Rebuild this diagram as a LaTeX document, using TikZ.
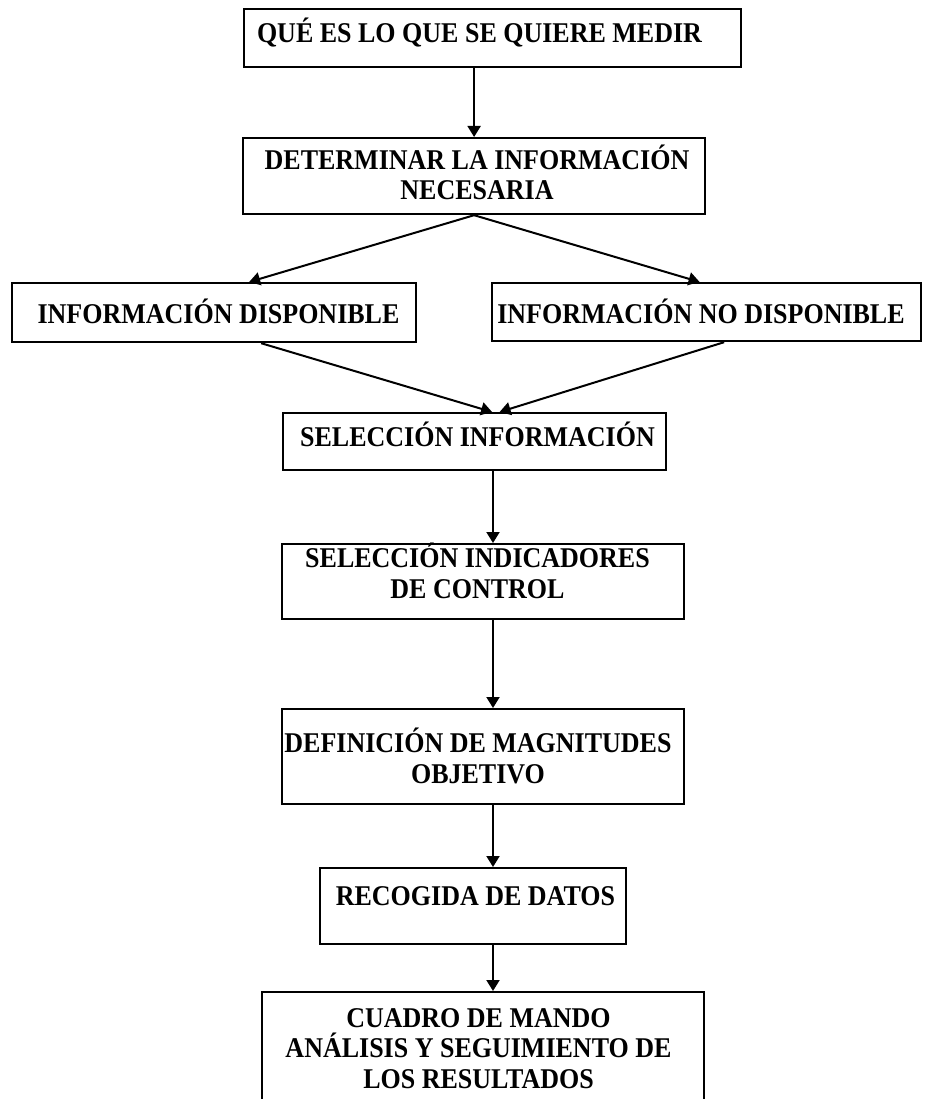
\documentclass[tikz,border=0pt]{standalone}
\usepackage{fontspec}
\usepackage{graphicx}
\setmainfont{Liberation Serif}
\usetikzlibrary{arrows.meta}
% slightly taller capitals for the box labels
\newcommand{\tallcaps}[1]{\scalebox{1}[1.1]{#1}}
\begin{document}
\begin{tikzpicture}[x=1pt,y=-1pt,
  box/.style={draw=black, line width=2.2pt, rectangle, inner sep=0pt, anchor=north west},
  lbl/.style={inner sep=0pt, anchor=base, align=center,
    font=\bfseries\fontsize{26}{30.5}\selectfont},
  arr/.style={draw=black, line width=2pt, -{Triangle[length=11pt,width=13pt]}}]
\useasboundingbox (0,0) rectangle (925,1099);

% boxes (top-left corner, size)
\node[box, minimum width=497pt, minimum height=58pt] (qm) at (243,8) {};
\node[box, minimum width=462pt, minimum height=76pt] (det) at (242,137) {};
\node[box, minimum width=404pt, minimum height=59pt] (disp) at (11,282) {};
\node[box, minimum width=429pt, minimum height=58pt] (nodisp) at (491,282) {};
\node[box, minimum width=383pt, minimum height=57pt] (sel) at (282,412) {};
\node[box, minimum width=402pt, minimum height=75pt] (ind) at (281,543) {};
\node[box, minimum width=402pt, minimum height=95pt] (def) at (281,708) {};
\node[box, minimum width=306pt, minimum height=76pt] (rec) at (319,867) {};
\node[box, minimum width=442pt, minimum height=160pt] (cm) at (261,991) {};

% box texts (anchored at the baseline of the last line)
\node[lbl] (tqm) at (479.5,43) {\tallcaps{QUÉ ES LO QUE SE QUIERE MEDIR}};
\node[lbl] (tdet) at (477,200) {\tallcaps{DETERMINAR LA INFORMACIÓN}\\\tallcaps{NECESARIA}};
\node[lbl] (tdisp) at (218.5,323) {\tallcaps{INFORMACIÓN DISPONIBLE}};
\node[lbl] (tnodisp) at (701,323) {\tallcaps{INFORMACIÓN NO DISPONIBLE}};
\node[lbl] (tsel) at (477.5,446) {\tallcaps{SELECCIÓN INFORMACIÓN}};
\node[lbl] (tind) at (477.5,598) {\tallcaps{SELECCIÓN INDICADORES}\\\tallcaps{DE CONTROL}};
\node[lbl] (tdef) at (478,783) {\tallcaps{DEFINICIÓN DE MAGNITUDES}\\\tallcaps{OBJETIVO}};
\node[lbl] (trec) at (475.5,905) {\tallcaps{RECOGIDA DE DATOS}};
\node[lbl] (tcm) at (478.5,1088) {\tallcaps{CUADRO DE MANDO}\\\tallcaps{ANÁLISIS Y SEGUIMIENTO DE}\\\tallcaps{LOS RESULTADOS}};

% connectors
\coordinate (spine) at (493,0);
\draw[arr] (qm.south -| det.north) -- (det.north);
\draw[arr] (det.south) -- ([xshift=35pt]disp.north);
\draw[arr] (det.south) -- ([xshift=-7pt]nodisp.north);
\draw[arr] ([xshift=47pt]disp.south) -- ([xshift=17.5pt]sel.north);
\draw[arr] ([xshift=17.5pt]nodisp.south) -- ([xshift=25pt]sel.north);
\draw[arr] (sel.south -| spine) -- (ind.north -| spine);
\draw[arr] (ind.south -| spine) -- (def.north -| spine);
\draw[arr] (def.south -| spine) -- (rec.north -| spine);
\draw[arr] (rec.south -| spine) -- (cm.north -| spine);
\end{tikzpicture}
\end{document}
